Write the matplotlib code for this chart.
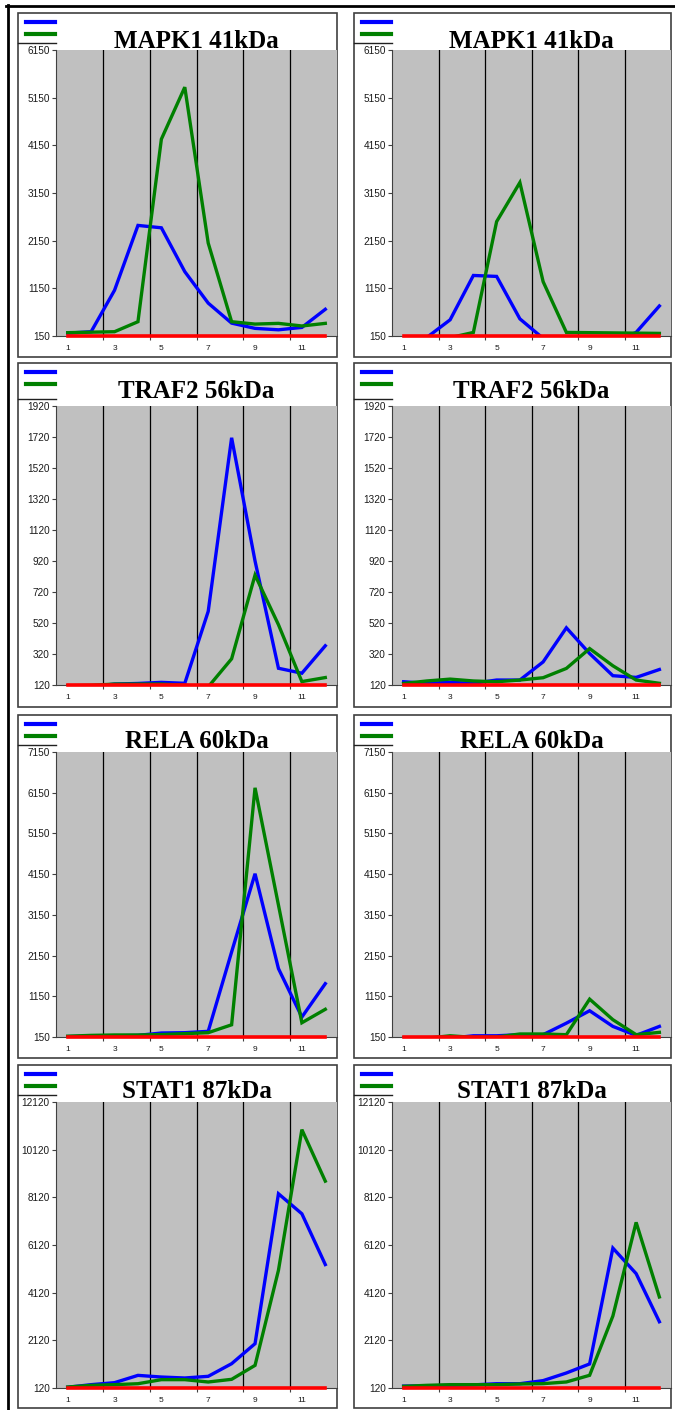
import numpy as np
import matplotlib
matplotlib.use("Agg")
import matplotlib.pyplot as plt
from matplotlib.lines import Line2D
from matplotlib.patches import Rectangle

# fractions (x axis)
x = list(range(1, 13))

titles = ["MAPK1 41kDa", "TRAF2 56kDa", "RELA 60kDa", "STAT1 87kDa"]
y_low = [150, 120, 150, 120]
y_high = [6150, 1920, 7150, 12120]
y_step = [1000, 200, 1000, 2000]

# left column
blue_left = [
    [210, 240, 1110, 2470, 2420, 1500, 840, 420, 310, 280, 330, 710],
    [110, 110, 126, 130, 137, 131, 595, 1715, 920, 228, 196, 373],
    [160, 170, 180, 190, 248, 256, 289, 2240, 4160, 1830, 640, 1460],
    [150, 260, 344, 650, 580, 540, 610, 1140, 1980, 8270, 7430, 5300],
]
green_left = [
    [220, 230, 240, 450, 4280, 5370, 2100, 450, 400, 415, 360, 415],
    [115, 118, 126, 126, 126, 118, 108, 289, 829, 509, 142, 168],
    [170, 190, 200, 200, 210, 232, 256, 450, 6270, 3390, 500, 830],
    [162, 232, 260, 300, 470, 470, 372, 484, 1070, 5060, 10960, 8800],
]

# right column
blue_right = [
    [100, 120, 490, 1420, 1400, 510, 100, 100, 100, 20, 225, 780],
    [141, 131, 137, 131, 152, 152, 269, 489, 323, 180, 169, 220],
    [120, 120, 120, 180, 180, 207, 207, 490, 795, 410, 190, 410],
    [200, 210, 230, 250, 300, 300, 430, 750, 1130, 5990, 4920, 2900],
]
green_right = [
    [100, 100, 115, 225, 2550, 3370, 1290, 225, 220, 215, 210, 205],
    [130, 146, 158, 146, 141, 152, 167, 227, 355, 244, 152, 131],
    [120, 120, 180, 140, 150, 224, 224, 207, 1080, 575, 207, 264],
    [190, 232, 260, 260, 260, 288, 302, 373, 653, 3140, 7070, 3940],
]

W, H = 675, 1410


def fx(px):
    return px / W


def fy(py):
    return 1 - py / H


fig = plt.figure(figsize=(W / 100, H / 100), dpi=100)
fig.patch.set_facecolor("white")

# pixel layout of the panels
box_x = [(18, 337), (354, 671)]
ax_x = [(56, 337), (392, 671)]
box_y = [(13, 357), (363, 707), (715, 1058), (1065, 1408)]
ax_y = [(50, 336), (406, 685), (752, 1037), (1102, 1388)]
title_base = [48, 398, 748, 1098]

# outer black frame of the page
fig.add_artist(Line2D([fx(6), fx(675)], [fy(5.5), fy(5.5)], color="black", lw=2, transform=fig.transFigure))
fig.add_artist(Line2D([fx(7.5), fx(7.5)], [fy(5), fy(1410)], color="black", lw=2, transform=fig.transFigure))

for r in range(4):
    for c in range(2):
        blue = blue_left[r] if c == 0 else blue_right[r]
        green = green_left[r] if c == 0 else green_right[r]

        bx0, bx1 = box_x[c]
        by0, by1 = box_y[r]
        fig.add_artist(Rectangle((fx(bx0), fy(by1)), fx(bx1 - bx0), (by1 - by0) / H,
                                 transform=fig.transFigure, facecolor="white",
                                 edgecolor="#404040", lw=1.2, zorder=-1))

        ax0, ax1 = ax_x[c]
        ay0, ay1 = ax_y[r]
        ax = fig.add_axes([fx(ax0), fy(ay1), fx(ax1 - ax0), (ay1 - ay0) / H])
        ax.set_facecolor("#C0C0C0")

        ax.plot(x, blue, color="#0000FF", lw=2.4, solid_joinstyle="miter", zorder=3)
        ax.plot(x, green, color="#008000", lw=2.4, solid_joinstyle="miter", zorder=3)
        ax.plot(x, [y_low[r]] * len(x), color="#FF0000", lw=2.6, zorder=4, clip_on=False)

        ax.set_xlim(0.5, 12.5)
        ax.set_ylim(y_low[r], y_high[r])
        ax.set_yticks(np.arange(y_low[r], y_high[r] + 1, y_step[r]))
        ax.set_xticks([2.5, 4.5, 6.5, 8.5, 10.5])
        ax.set_xticklabels([])
        ax.set_xticks([1, 3, 5, 7, 9, 11], minor=True)
        ax.set_xticklabels(["1", "3", "5", "7", "9", "11"], minor=True)
        ax.grid(axis="x", which="major", color="black", lw=0.9)
        ax.set_axisbelow(True)

        ax.tick_params(axis="y", length=3, width=0.8, color="#404040", pad=1.5,
                       labelsize=7.2, labelcolor="#1a1a1a")
        ax.tick_params(axis="x", which="major", length=3, width=0.8, color="#404040")
        ax.tick_params(axis="x", which="minor", length=0, pad=6.5, labelsize=6,
                       labelcolor="#1a1a1a")
        for lab in ax.get_yticklabels() + ax.get_xticklabels(minor=True):
            lab.set_fontfamily("Liberation Sans")

        ax.spines["top"].set_visible(False)
        ax.spines["right"].set_visible(False)
        ax.spines["left"].set_color("#404040")
        ax.spines["bottom"].set_color("#404040")

        fig.text(fx((ax0 + ax1) / 2), fy(title_base[r]), titles[r], ha="center", va="baseline",
                 fontsize=18, fontweight="bold", family="Liberation Serif")

        # legend keys without labels, top left of the box
        handles = [Line2D([], [], color="#0000FF", lw=3), Line2D([], [], color="#008000", lw=3)]
        ax.legend(handles, ["", ""], loc="upper left",
                  bbox_to_anchor=(fx(bx0 + 5), fy(by0 + 2)), bbox_transform=fig.transFigure,
                  frameon=False, fontsize=8, handlelength=2.6, handletextpad=0,
                  borderpad=0.3, borderaxespad=0, labelspacing=0.15)
        # bottom edge of the legend area
        fig.add_artist(Line2D([fx(bx0), fx(ax0)], [fy(ay0 - 7), fy(ay0 - 7)], color="#202020",
                              lw=1, transform=fig.transFigure))

fig.savefig("out.png", dpi=100)
